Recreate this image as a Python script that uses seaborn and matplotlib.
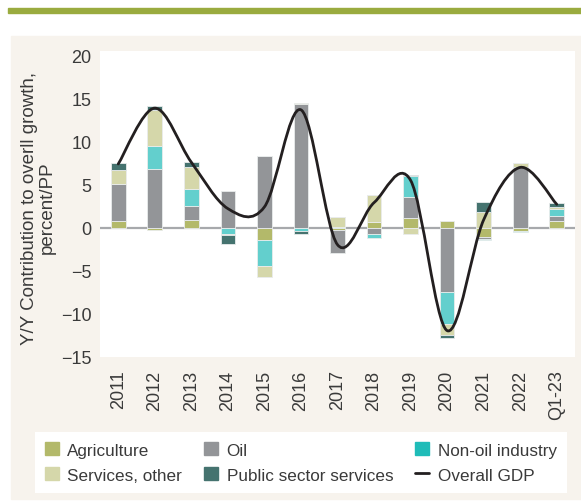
import numpy as np
import matplotlib.pyplot as plt
import seaborn as sns
from matplotlib.path import Path
from matplotlib.patches import PathPatch, Patch, Rectangle
from matplotlib.lines import Line2D

# contributions to y/y growth, percentage points
periods = ['2011', '2012', '2013', '2014', '2015', '2016', '2017',
           '2018', '2019', '2020', '2021', '2022', 'Q1-23']
agriculture = [0.74, -0.30, 0.89, 0.00, -1.51, 0.00, -0.30,
               0.70, 1.12, 0.81, -1.05, -0.43, 0.72]
oil = [4.30, 6.78, 1.59, 4.22, 8.29, 14.34, -2.70,
       -0.78, 2.48, -7.52, -0.27, 7.00, 0.68]
non_oil = [0.00, 2.75, 2.05, -0.76, -2.98, -0.43, 0.10,
           -0.45, 2.44, -3.68, -0.12, -0.10, 0.76]
services = [1.67, 4.19, 2.56, -0.15, -1.24, 0.15, 1.18,
            3.12, -0.70, -1.28, 1.78, 0.50, 0.22]
public = [0.78, 0.43, 0.50, -0.98, 0.08, -0.27, 0.00,
          0.00, 0.12, -0.35, 1.16, 0.00, 0.52]
gdp = [7.4, 13.9, 7.6, 2.2, 2.4, 13.7, -2.0,
       2.9, 5.5, -12.0, 0.9, 7.0, 2.7]

sectors = ['Agriculture', 'Oil', 'Non-oil industry',
           'Services, other', 'Public sector services']
bar_colors = ['#b3b96a', '#939598', '#63cfcd', '#d5d7aa', '#45736f']
legend_colors = ['#b3b96a', '#939598', '#1fbcb8', '#d5d7aa', '#45736f']
text_col = '#3a3a3a'

sns.set_theme(style='white')
plt.rcParams['font.family'] = ['Liberation Sans', 'DejaVu Sans']
plt.rcParams['text.color'] = text_col
plt.rcParams['axes.labelcolor'] = text_col
plt.rcParams['xtick.color'] = text_col
plt.rcParams['ytick.color'] = text_col

fig = plt.figure(figsize=(5.81, 5.02), dpi=100)
fig.patch.set_facecolor('white')
# green rule on top and beige panel behind the chart
fig.patches.append(Rectangle((0.014, 0.972), 0.986, 0.010, transform=fig.transFigure,
                             color='#9aab3f', zorder=-10))
fig.patches.append(Rectangle((0.019, 0.004), 0.981, 0.922, transform=fig.transFigure,
                             color='#f7f3ed', zorder=-10))

ax = fig.add_axes([0.1721, 0.2869, 0.8176, 0.6095])
ax.set_facecolor('white')

pos_base = np.zeros(len(periods))
neg_base = np.zeros(len(periods))
for vals, col in zip([agriculture, oil, non_oil, services, public], bar_colors):
    v = np.array(vals)
    bottom = np.where(v >= 0, pos_base, neg_base)
    sns.barplot(x=periods, y=v, bottom=bottom, color=col, saturation=1, width=0.4,
                edgecolor='#e9ecec', linewidth=0.6, ax=ax, zorder=2)
    pos_base += np.clip(v, 0, None)
    neg_base += np.clip(v, None, 0)

ax.axhline(0, color='#a7a9ac', lw=1.6, zorder=1)

# smoothed GDP line, drawn as cubic Bezier segments (Excel-style smoothing)
xs = np.arange(len(gdp), dtype=float)
ys = np.array(gdp, dtype=float)
pts = np.column_stack([xs, ys])
ext = np.vstack([pts[0], pts, pts[-1]])
verts = [tuple(pts[0])]
codes = [Path.MOVETO]
for i in range(len(pts) - 1):
    p0, p1, p2, p3 = ext[i], ext[i + 1], ext[i + 2], ext[i + 3]
    c1 = p1 + (p2 - p0) / 6
    c2 = p2 - (p3 - p1) / 6
    verts += [tuple(c1), tuple(c2), tuple(p2)]
    codes += [Path.CURVE4] * 3
ax.add_patch(PathPatch(Path(verts, codes), facecolor='none', edgecolor='#231f20',
                       lw=2.0, capstyle='round', zorder=3))

ax.set_xlim(-0.5, 12.5)
ax.set_ylim(-15.07, 20.55)
ax.set_yticks(range(-15, 21, 5))
for s in ax.spines.values():
    s.set_visible(False)
ax.tick_params(axis='both', length=0, labelsize=13)
ax.tick_params(axis='y', pad=6)
ax.tick_params(axis='x', pad=9, labelrotation=90)
ax.set_xlabel('')
ax.set_ylabel('Y/Y Contribution to overll growth,\npercent/PP', fontsize=13.5,
              linespacing=1.0, labelpad=2, multialignment='center')
ax.yaxis.set_label_coords(-0.094, 0.49)

handles = [Patch(color=legend_colors[0]), Patch(color=legend_colors[3]),
           Patch(color=legend_colors[1]), Patch(color=legend_colors[4]),
           Patch(color=legend_colors[2]), Line2D([], [], color='#231f20', lw=2)]
labels = [sectors[0], sectors[3], sectors[1], sectors[4], sectors[2], 'Overall GDP']
leg = fig.legend(handles, labels, ncol=3, loc='lower left',
                 bbox_to_anchor=(0.060, 0.016, 0.916, 0.125), mode='expand',
                 frameon=True, fancybox=False, facecolor='white', edgecolor='none',
                 framealpha=1, fontsize=12.3, handlelength=0.8, handleheight=0.8,
                 handletextpad=0.5, borderpad=0.6, labelspacing=0.55,
                 borderaxespad=0)

fig.savefig('out.png', dpi=100)
